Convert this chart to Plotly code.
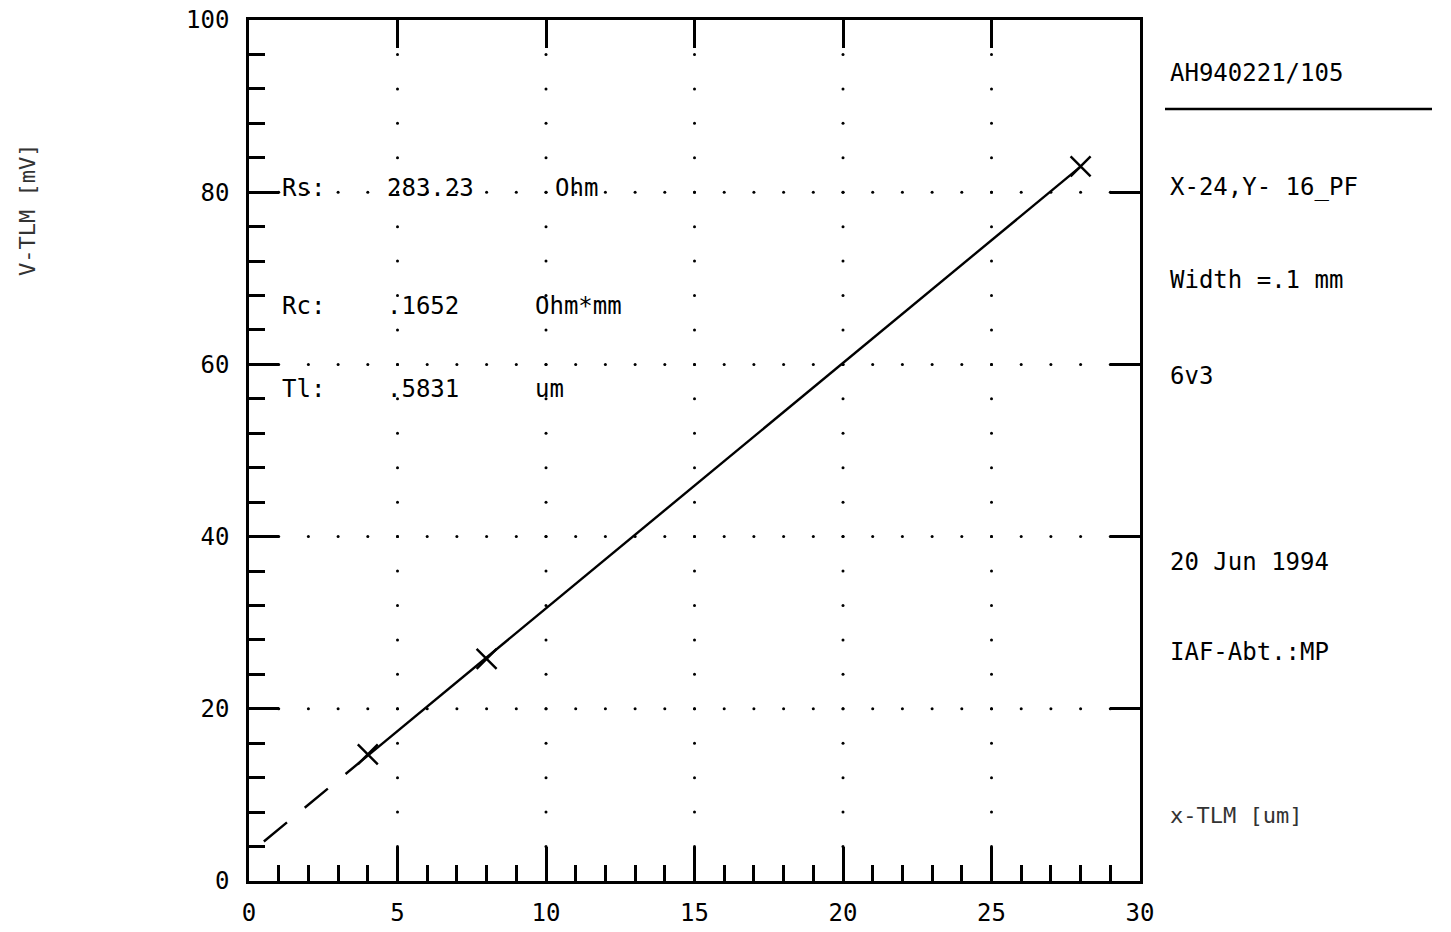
import numpy as np
import plotly.graph_objects as go

# TLM measurement: pad spacing [um] vs. voltage [mV]
x_tlm = [4, 8, 28]
v_tlm = [14.7, 25.8, 83.0]

# fit range: dashed extrapolation from x_fit_start to the first pad, solid across pads
x_fit_start = 0.5

# extracted parameters
stat_names = ["Rs:", "Rc:", "Tl:"]
stat_values = ["283.23", ".1652", ".5831"]
stat_units = ["Ohm", "Ohm*mm", "um"]
stat_y = [80.5, 66.8, 57.1]
stat_unit_x = [10.24, 9.56, 9.56]

# side panel
info_texts = ["AH940221/105", "X-24,Y- 16_PF", "Width =.1 mm", "6v3",
              "20 Jun 1994", "IAF-Abt.:MP"]
info_ypix = [73, 187, 280, 376, 562, 652]

x_ticks = [0, 5, 10, 15, 20, 25, 30]
y_ticks = [0, 20, 40, 60, 80, 100]
x_grid = [5, 10, 15, 20, 25]
y_grid = [20, 40, 60, 80]

W, H = 1451, 932
L, R, T, B = 249, 311, 20, 51
PW, PH = W - L - R, H - T - B
FONT = "DejaVu Sans Mono"
FS = 24

slope, intercept = np.polyfit(x_tlm, v_tlm, 1)

fig = go.Figure()

# dotted grid: dots at every x unit on horizontal lines, every 4 y units on vertical lines
gx, gy = [], []
for yv in y_grid:
    for xv in range(1, 30):
        gx.append(xv); gy.append(yv)
for xv in x_grid:
    for yv in range(4, 100, 4):
        gx.append(xv); gy.append(yv)
fig.add_trace(go.Scatter(x=gx, y=gy, mode="markers", xaxis="x2", yaxis="y2",
                         marker=dict(size=3, color="black"), hoverinfo="skip",
                         showlegend=False))

# fit line: dashed extrapolation and solid part
xd = [x_fit_start, x_tlm[0]]
fig.add_trace(go.Scatter(x=xd, y=[slope * v + intercept for v in xd], mode="lines",
                         line=dict(color="black", width=2.4, dash="30px,23px"),
                         showlegend=False))
xs = [x_tlm[0], x_tlm[-1]]
fig.add_trace(go.Scatter(x=xs, y=[slope * v + intercept for v in xs], mode="lines",
                         line=dict(color="black", width=2.4), showlegend=False))

# measured points
fig.add_trace(go.Scatter(x=x_tlm, y=v_tlm, mode="markers",
                         marker=dict(symbol="x-thin", size=20,
                                     line=dict(color="black", width=2.4)),
                         showlegend=False))

axis_common = dict(showgrid=False, zeroline=False, linecolor="black",
                   tickcolor="black", tickwidth=2.5, automargin=False)

fig.update_layout(
    width=W, height=H,
    margin=dict(l=L, r=R, t=T, b=B),
    paper_bgcolor="white", plot_bgcolor="white",
    font=dict(family=FONT, color="black", size=FS),
    xaxis=dict(range=[0, 30], tickvals=x_ticks, ticks="inside", ticklen=34,
               showline=True, linewidth=2.5, mirror=True,
               minor=dict(ticks="inside", dtick=1, ticklen=16, tickwidth=2.5,
                          tickcolor="black", showgrid=False),
               tickfont=dict(family=FONT, size=FS), ticklabelstandoff=8,
               **axis_common),
    yaxis=dict(range=[0, 100], tickvals=y_ticks, ticks="inside", ticklen=30,
               showline=True, linewidth=2.5, mirror=True,
               minor=dict(ticks="inside", dtick=4, ticklen=16, tickwidth=2.5,
                          tickcolor="black", showgrid=False),
               tickfont=dict(family=FONT, size=FS), ticklabelstandoff=12,
               **axis_common),
    xaxis2=dict(range=[0, 30], overlaying="x", side="top", tickvals=x_grid,
                ticks="inside", ticklen=28, showticklabels=False, showline=False,
                **axis_common),
    yaxis2=dict(range=[0, 100], overlaying="y", side="right", tickvals=y_grid,
                ticks="inside", ticklen=30, showticklabels=False, showline=False,
                **axis_common),
)

ann = []
for name, val, unit, yv, ux in zip(stat_names, stat_values, stat_units, stat_y, stat_unit_x):
    ann.append(dict(x=1.04, y=yv, xref="x", yref="y", text=name, showarrow=False,
                    xanchor="left", yanchor="middle", font=dict(size=FS)))
    ann.append(dict(x=4.58, y=yv, xref="x", yref="y", text=val, showarrow=False,
                    xanchor="left", yanchor="middle", font=dict(size=FS)))
    ann.append(dict(x=ux, y=yv, xref="x", yref="y", text=unit, showarrow=False,
                    xanchor="left", yanchor="middle", font=dict(size=FS)))

for txt, yp in zip(info_texts, info_ypix):
    ann.append(dict(x=(1168 - L) / PW, y=(H - B - yp) / PH, xref="paper", yref="paper",
                    text=txt, showarrow=False, xanchor="left", yanchor="middle",
                    font=dict(size=FS)))

# x-axis title in the side panel
ann.append(dict(x=(1168 - L) / PW, y=(H - B - 815) / PH, xref="paper", yref="paper",
                text="x-TLM [um]", showarrow=False, xanchor="left", yanchor="middle",
                font=dict(size=22, color="#333333")))
# y-axis title
ann.append(dict(x=(28 - L) / PW, y=(H - B - 210) / PH, xref="paper", yref="paper",
                text="V-TLM [mV]", showarrow=False, textangle=-90,
                xanchor="center", yanchor="middle", font=dict(size=22, color="#333333")))
fig.update_layout(annotations=ann)

# rule under the sample id
fig.add_shape(type="line", xref="paper", yref="paper",
              x0=(1165 - L) / PW, x1=(1432 - L) / PW,
              y0=(H - B - 109) / PH, y1=(H - B - 109) / PH,
              line=dict(color="black", width=2.5))

fig.write_html("out.html")
